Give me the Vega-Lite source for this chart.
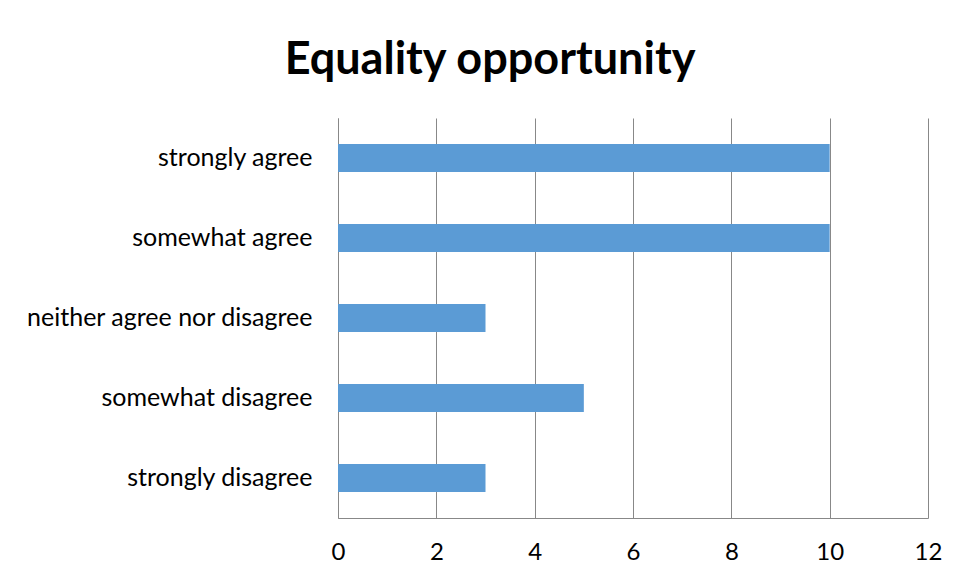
{
  "$schema": "https://vega.github.io/schema/vega-lite/v6.json",
  "width": 590,
  "height": 400,
  "autosize": {"type": "none"},
  "padding": {"left": 338, "top": 118, "right": 33, "bottom": 62},
  "background": "white",
  "title": {
    "text": "Equality opportunity",
    "font": "Lato",
    "fontWeight": "bold",
    "fontSize": 45,
    "color": "#000000",
    "anchor": "middle",
    "frame": "group",
    "dx": -143,
    "baseline": "alphabetic",
    "offset": -1
  },
  "data": {
    "values": [
      {"response": "strongly agree", "count": 10},
      {"response": "somewhat agree", "count": 10},
      {"response": "neither agree nor disagree", "count": 3},
      {"response": "somewhat disagree", "count": 5},
      {"response": "strongly disagree", "count": 3}
    ]
  },
  "mark": {"type": "bar", "color": "#5B9BD5"},
  "encoding": {
    "y": {
      "field": "response",
      "type": "nominal",
      "sort": null,
      "scale": {"paddingInner": 0.65, "paddingOuter": 0.325},
      "axis": {
        "title": null,
        "ticks": false,
        "domainColor": "#888888",
        "labelFont": "Lato",
        "labelFontSize": 25,
        "labelColor": "#000000",
        "labelPadding": 26,
        "labelLimit": 400
      }
    },
    "x": {
      "field": "count",
      "type": "quantitative",
      "scale": {"domain": [0, 12]},
      "axis": {
        "title": null,
        "values": [0, 2, 4, 6, 8, 10, 12],
        "ticks": false,
        "grid": true,
        "gridColor": "#888888",
        "domainColor": "#888888",
        "labelFont": "Lato",
        "labelFontSize": 24,
        "labelColor": "#000000",
        "labelPadding": 22,
        "labelFlush": false
      }
    }
  },
  "config": {"view": {"stroke": null}}
}
